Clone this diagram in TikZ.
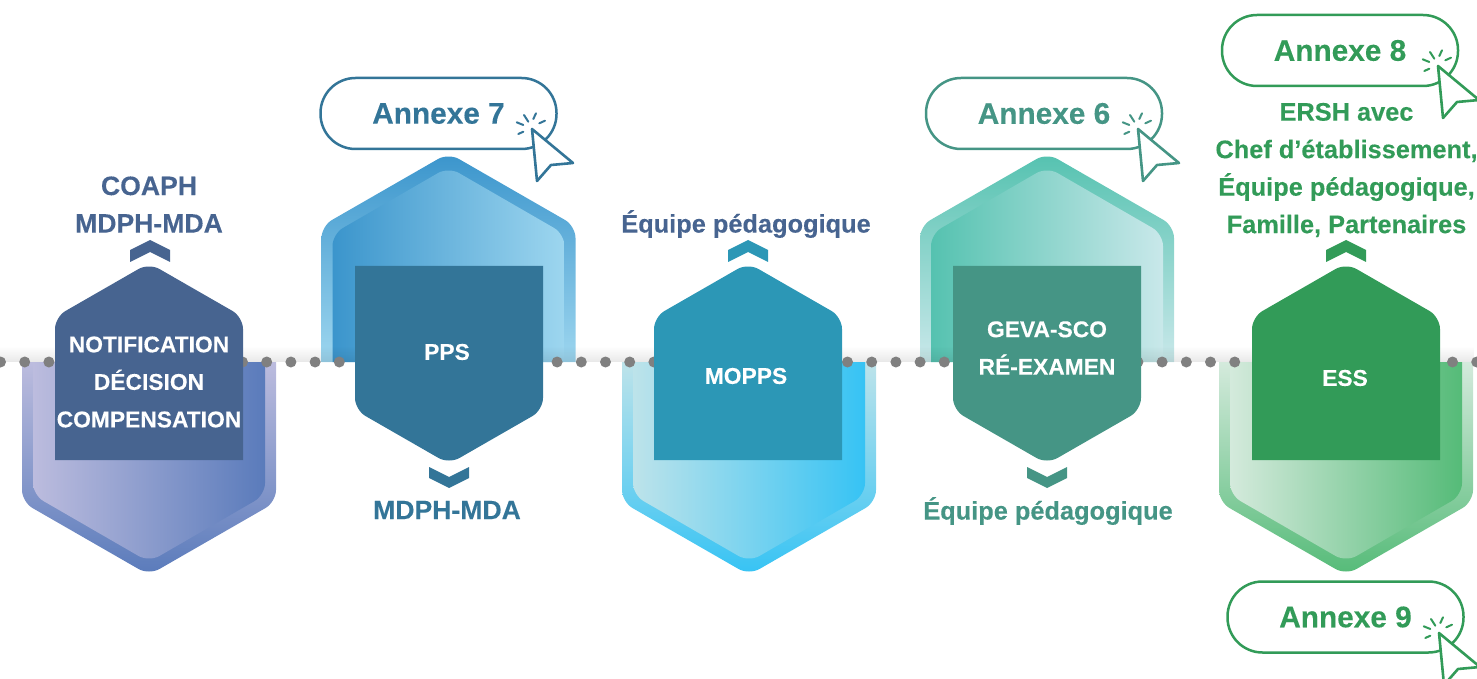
\documentclass[tikz,border=0pt]{standalone}
\usepackage{fontspec}
\usepackage{tikz}
\usetikzlibrary{fadings}
\setmainfont{Liberation Sans}[BoldFeatures={FakeBold=0.2}]
\definecolor{bleunuit}{HTML}{476490}
\definecolor{bleupps}{HTML}{337598}
\definecolor{bleumopps}{HTML}{2C97B6}
\definecolor{tealgeva}{HTML}{459585}
\definecolor{vertess}{HTML}{329B58}
\definecolor{lavande}{HTML}{BCBCDE}
\definecolor{indigo}{HTML}{5A7BBB}
\definecolor{azur}{HTML}{3B95CC}
\definecolor{ciel}{HTML}{9DD6EF}
\definecolor{palecyan}{HTML}{BDE3EA}
\definecolor{cyanvif}{HTML}{36C3F4}
\definecolor{teal}{HTML}{55C2B0}
\definecolor{paleteal}{HTML}{C9E8EA}
\definecolor{palevert}{HTML}{D4EADC}
\definecolor{vert}{HTML}{55BB78}

\begin{document}
\begin{tikzpicture}[x=0.5pt,y=-0.5pt,
    inlabel/.style={text=white,align=center,font=\bfseries\fontsize{11.4}{18.75}\selectfont},
    outlabel/.style={align=center,font=\bfseries\fontsize{13.3}{18.75}\selectfont},
    longlabel/.style={align=center,font=\bfseries\fontsize{12.68}{18.75}\selectfont},
    pill/.style={draw,fill=white,line width=1.25pt,rounded corners=17.5pt,
      minimum width=118pt,minimum height=35.5pt,inner sep=0pt,
      font=\bfseries\fontsize{14.9}{18}\selectfont}]
    \useasboundingbox(0,0) rectangle(1477,679);
    \clip(0,0) rectangle(1477,679);
    % houses above the line
    \foreach \cx/\lo/\hi in {448.5/azur/ciel,1047/teal/paleteal}{
      \shade[top color=\lo,middle color=\lo!55!\hi,bottom color=\hi]
      (\cx-127,362)[rounded corners=6pt]--(\cx-127,226)--(\cx,153)--(\cx+127,226)
      [sharp corners]--(\cx+127,362)--cycle;
      \shade[left color=\lo,right color=\hi]
      (\cx-116,362)[rounded corners=6pt]--(\cx-116,234)--(\cx,167)--(\cx+116,234)
      [sharp corners]--(\cx+116,362)--cycle;
    }
    % houses below the line
    \foreach \cx/\lo/\hi in {149/lavande/indigo,749/palecyan/cyanvif,1346/palevert/vert}{
      \shade[top color=\lo,middle color=\lo!30!\hi,bottom color=\hi]
      (\cx-127,362)[rounded corners=6pt]--(\cx-127,502)--(\cx,575)--(\cx+127,502)
      [sharp corners]--(\cx+127,362)--cycle;
      \shade[left color=\lo,right color=\hi]
      (\cx-116,362)[rounded corners=6pt]--(\cx-116,495)--(\cx,562)--(\cx+116,495)
      [sharp corners]--(\cx+116,362)--cycle;
    }
    % shadow and dots of the line
    \fill[black,opacity=.09,path fading=north](0,346) rectangle(1477,362);
    \foreach \i in {0,...,61}{
      \fill[black!50](0.5+24.2*\i,362) circle[radius=5.5];
    }
    % dark blocks pointing up, with chevron above
    \foreach \cx/\col in {149/bleunuit,748/bleumopps,1346/vertess}{
      \fill[\col](\cx-94,460)[rounded corners=6pt]--(\cx-94,317)--(\cx,263)--(\cx+94,317)
      [sharp corners]--(\cx+94,460)--cycle;
    }
    \foreach \cx/\col in {150/bleunuit,748/bleumopps,1346/vertess}{
      \fill[\col](\cx-20,250)--(\cx,240)--(\cx+20,250)--(\cx+20,262)--(\cx,252)--(\cx-20,262)--cycle;
    }
    % dark blocks pointing down, with chevron below
    \foreach \cx/\col in {449/bleupps,1047/tealgeva}{
      \fill[\col](\cx-94,266)--(\cx+94,266)[rounded corners=6pt]--(\cx+94,410)--(\cx,464)--(\cx-94,410)
      [sharp corners]--cycle;
      \fill[\col](\cx-20,467)--(\cx,477)--(\cx+20,467)--(\cx+20,478)--(\cx,488)--(\cx-20,478)--cycle;
    }
    % texts in the blocks
    \node[inlabel](notification) at (149,382){NOTIFICATION\\DÉCISION\\COMPENSATION};
    \node[inlabel](pps) at (447,352){PPS};
    \node[inlabel](mopps) at (746,376){MOPPS};
    \node[inlabel](geva) at (1047,348){GEVA-SCO\\RÉ-EXAMEN};
    \node[inlabel](ess) at (1345,378){ESS};
    % texts outside
    \node[outlabel,text=bleunuit](coaph) at (149,204.5){COAPH\\MDPH-MDA};
    \node[outlabel,text=bleupps](mdph) at (447,510){MDPH-MDA};
    \node[longlabel,text=bleunuit](equipehaut) at (746,224){Équipe pédagogique};
    \node[longlabel,text=tealgeva](equipebas) at (1048,511){Équipe pédagogique};
    \node[longlabel,text=vertess](ersh) at (1346.5,170){ERSH avec\\Chef d’établissement,\\Équipe pédagogique,\\Famille, Partenaires};
    % annexes: pill, cursor, clicks
    \foreach \cx/\cy/\tx/\ty/\col/\num in {438.5/113.5/532/129/bleupps/7,1044/113.5/1138/129/tealgeva/6,
      1340/50.5/1438/66/vertess/8,1345.5/617/1439/633/vertess/9}{
      \node[pill,draw=\col,text=\col](annexe\num) at (\cx,\cy){\raisebox{-.5pt}{Annexe \num}};
      \begin{scope}[shift={(\tx,\ty)},draw=\col,line cap=round,line join=round]
        \draw[fill=white,line width=1.3pt](0,0)--(41,34)--(19,36)--(5,52)--cycle;
        \draw[line width=1pt](-15.3,-6.7)--(-8.7,-4) (-8,-14)--(-3.7,-7.3) (4,-15.7)--(1.3,-10)
        (13,-8.3)--(7.3,-5.7) (-13.7,5)--(-8.7,2.7);
      \end{scope}
    }
  \end{tikzpicture}
\end{document}
